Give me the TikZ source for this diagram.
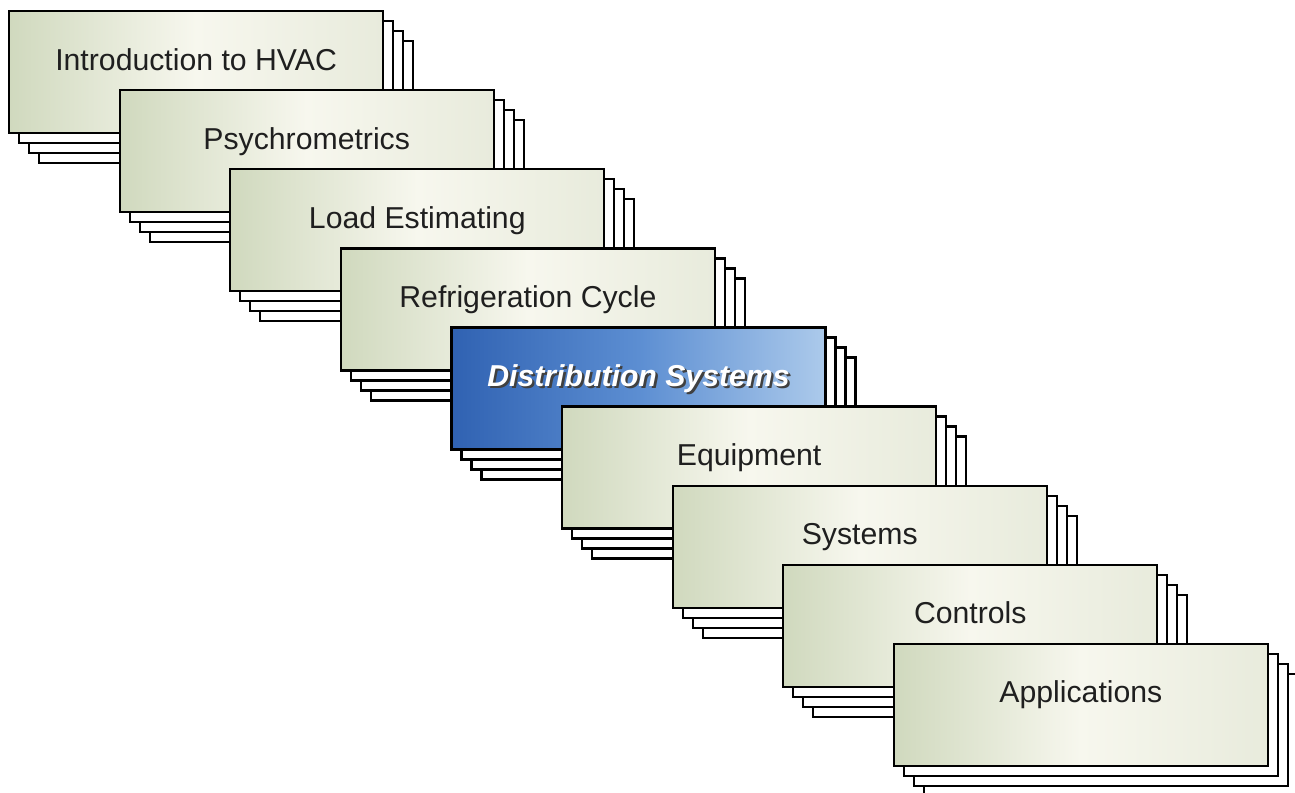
\documentclass[tikz,border=0pt]{standalone}
\usepackage{fontspec}
\usepackage{xcolor}
\usepackage{tikz}
\usetikzlibrary{calc}

\newfontfamily\cardfont{Liberation Sans}

\definecolor{cardleft}{RGB}{208,217,190}
\definecolor{cardmid}{RGB}{247,247,238}
\definecolor{cardright}{RGB}{232,235,220}
\definecolor{blueleft}{RGB}{48,98,178}
\definecolor{bluemid}{RGB}{92,142,210}
\definecolor{blueright}{RGB}{172,202,235}

\newcommand{\shadowtext}[1]{%
  \makebox[0pt][l]{\kern1.3pt\raisebox{-1.3pt}{\textcolor{black!75}{#1}}}%
  \textcolor{white}{#1}}

\tikzset{
  sheet/.style={draw, line width=1.3pt, fill=white, inner sep=0pt,
    minimum width=7.48cm, minimum height=2.44cm},
  card/.style={sheet, text height=1.18cm, text depth=1.26cm,
    left color=cardleft, right color=cardright, middle color=cardmid,
    text=black!88, font=\cardfont\fontsize{17.2}{20}\selectfont},
  hcard/.style={card, left color=blueleft, right color=blueright,
    middle color=bluemid, font=\cardfont\bfseries\itshape\fontsize{17.2}{20}\selectfont},
}

\begin{document}
\begin{tikzpicture}[
    x=0.02cm, y=-0.02cm,
  ]

  \useasboundingbox (0,0) rectangle (1295,793);

  % Cards, each with three sheets behind it
  \foreach \nm/\txt/\sty [count=\i from 0] in {
      intro/Introduction to HVAC/card,
      psych/Psychrometrics/card,
      load/Load Estimating/card,
      refr/Refrigeration Cycle/card,
      dist/\shadowtext{Distribution Systems}/hcard,
      equip/Equipment/card,
      sys/Systems/card,
      ctrl/Controls/card,
      appl/Applications/card%
    }{
    \coordinate (\nm-pos) at ({8+110.6*\i}, {10+79.1*\i});
    \foreach \k in {3,2,1}
      \node[sheet, anchor=north west] (\nm-\k) at ($(\nm-pos)+(10*\k,10*\k)$) {};
    \node[\sty, anchor=north west] (\nm) at (\nm-pos) {\txt};
  }

\end{tikzpicture}
\end{document}
